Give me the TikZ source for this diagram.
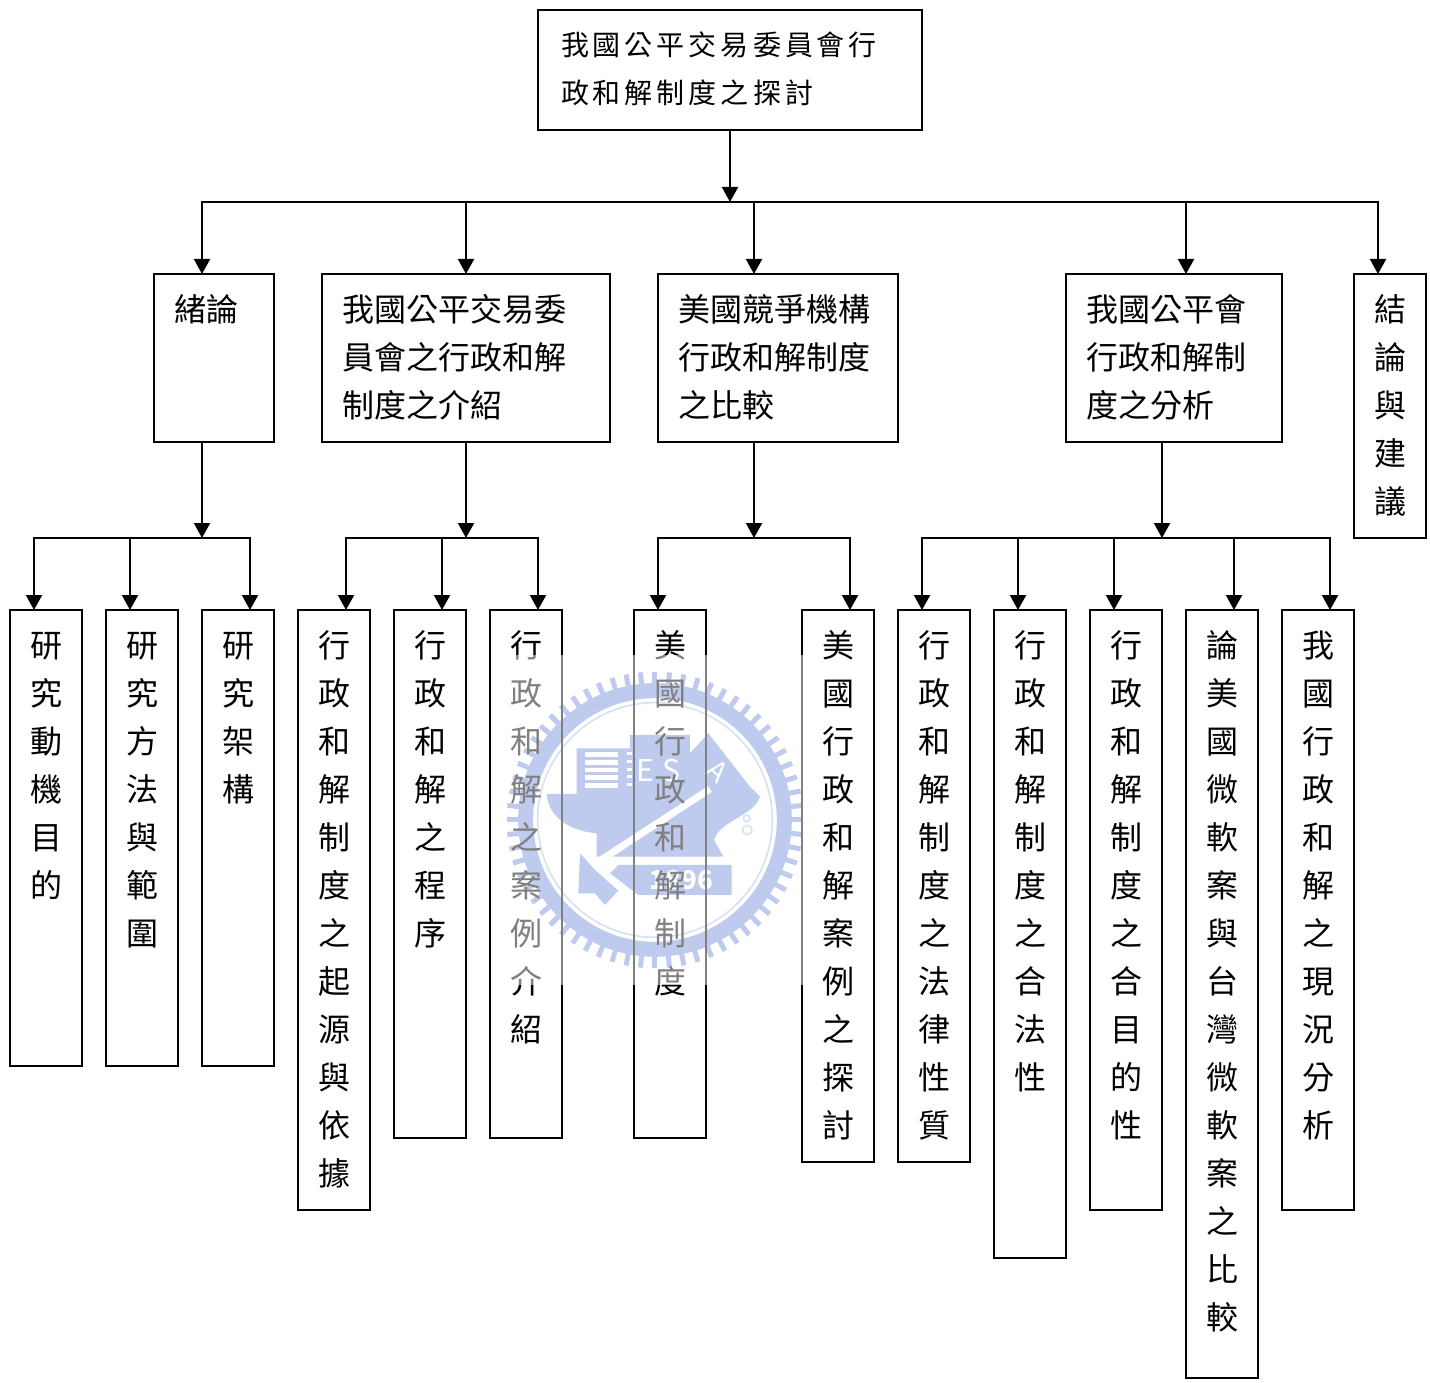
\documentclass[tikz,border=0pt]{standalone}
\usepackage{fontspec}
\setmainfont{Noto Sans CJK TC}
\usetikzlibrary{arrows.meta,calc}
\definecolor{wmblue}{RGB}{125,149,221}
\definecolor{wmpale}{RGB}{177,193,237}
\XeTeXlinebreaklocale "zh"
\XeTeXlinebreakskip=0pt plus 1pt
\tikzset{
  chartbox/.style={draw=black,line width=2pt,inner sep=0pt,outer sep=0pt,font=\fontsize{32}{48}\selectfont},
  link/.style={draw=black,line width=2pt},
  arrowlink/.style={link,-{Triangle[length=15pt,width=16pt]}}
}
% name, x0, y0, x1, y1, text: vertical text, one character per line
\newcommand\tallbox[6]{%
  \node[chartbox,minimum width={(#4-#2)*1pt},minimum height={(#5-#3)*1pt}] (#1) at ({(#2+#4)/2},{(#3+#5)/2})
  {\parbox[c][\dimexpr #5pt-#3pt\relax][t]{34pt}{\centering\rule{0pt}{47pt}#6}};}
% name, x0, y0, x1, y1, text: horizontal lines, left aligned
\newcommand\widebox[6]{%
  \node[chartbox,minimum width={(#4-#2)*1pt},minimum height={(#5-#3)*1pt}] (#1) at ({(#2+#4)/2},{(#3+#5)/2})
  {\parbox[c][\dimexpr #5pt-#3pt\relax][t]{\dimexpr #4pt-#2pt\relax}{\leftskip=20pt\rightskip=0pt plus 1fil\parindent=0pt\rule{0pt}{47pt}#6}};}
\begin{document}
\begin{tikzpicture}[x=1pt,y=-1pt]
\useasboundingbox (0,0) rectangle (1430,1383);
\fill[white] (0,0) rectangle (1430,1383);

% watermark seal, under the chart; the veil at the end pales both
\begin{scope}[shift={(490,640)},x=0.3333pt,y=-0.3333pt]
  \coordinate (wm) at (495,540);
  \draw[wmblue,line width=15pt] (wm) circle[radius=388];
  \foreach \t in {0,5.625,...,355}
    \draw[wmblue,line width=5pt] ($(wm)+(\t:400)$) -- ($(wm)+(\t:445)$);
  \draw[wmpale,line width=1.6pt] (wm) circle[radius=352];
  % anvil body and building
  \fill[wmblue] (170,462) -- (260,462) -- (260,325) -- (420,325) -- (420,285) -- (600,285) -- (600,340)
     -- (655,280) -- (780,440) -- (810,470) .. controls (790,530) and (690,540) .. (672,600)
     -- (700,650) -- (320,650) -- (320,580) .. controls (220,570) and (175,520) .. (170,462) -- cycle;
  % stripes on the building
  \foreach \s in {337,360,383,406,429}
    \fill[white] (285,\s) rectangle (385,\s+14);
  \foreach \s in {337,360,383,406,429}
    \fill[white] (410,\s) rectangle (425,\s+9);
  \node[white,font=\fontsize{30}{30}\selectfont] (wmE) at (465,392) {E};
  \node[white,font=\fontsize{30}{30}\selectfont] (wmS) at (545,392) {S};
  \node[white,font=\fontsize{28}{28}\selectfont,rotate=-40] (wmA) at (682,392) {A};
  % handle
  \draw[white,line width=7pt] (660,447) -- (325,665);
  % hammer head
  \fill[wmblue] (270,640) -- (315,690) -- (385,752) -- (345,795) -- (315,760) -- (265,760) -- cycle;
  % date band
  \fill[wmblue] (385,675) -- (725,675) -- (725,765) -- (445,765) -- (360,700) -- cycle;
  \node[white,font=\fontsize{26}{26}\selectfont\bfseries] (wmY) at (575,720) {1896};
  % small curl
  \draw[wmpale,line width=1.5pt] (770,535) circle[radius=10] (772,570) circle[radius=14];
\end{scope}

% root
\node[chartbox,minimum width=384pt,minimum height=120pt] (root) at (730,70)
  {\parbox[c][120pt][t]{384pt}{\leftskip=23pt\parindent=0pt\fontsize{28}{48}\selectfont\XeTeXlinebreakskip=4pt\rule{0pt}{46pt}我國公平交易委員會行\\政和解制度之探討}};

% second level
\widebox{a}{154}{274}{274}{442}{緒論}
\widebox{b}{322}{274}{610}{442}{我國公平交易委\\員會之行政和解\\制度之介紹}
\widebox{c}{658}{274}{898}{442}{美國競爭機構\\行政和解制度\\之比較}
\widebox{d}{1066}{274}{1282}{442}{我國公平會\\行政和解制\\度之分析}
\tallbox{e}{1354}{274}{1426}{538}{結論與建議}

% third level
\tallbox{a1}{10}{610}{82}{1066}{研究動機目的}
\tallbox{a2}{106}{610}{178}{1066}{研究方法與範圍}
\tallbox{a3}{202}{610}{274}{1066}{研究架構}
\tallbox{b1}{298}{610}{370}{1210}{行政和解制度之起源與依據}
\tallbox{b2}{394}{610}{466}{1138}{行政和解之程序}
\tallbox{b3}{490}{610}{562}{1138}{行政和解之案例介紹}
\tallbox{c1}{634}{610}{706}{1138}{美國行政和解制度}
\tallbox{c2}{802}{610}{874}{1162}{美國行政和解案例之探討}
\tallbox{d1}{898}{610}{970}{1162}{行政和解制度之法律性質}
\tallbox{d2}{994}{610}{1066}{1258}{行政和解制度之合法性}
\tallbox{d3}{1090}{610}{1162}{1210}{行政和解制度之合目的性}
\tallbox{d4}{1186}{610}{1258}{1378}{論美國微軟案與台灣微軟案之比較}
\tallbox{d5}{1282}{610}{1354}{1210}{我國行政和解之現況分析}

% bus junctions
\coordinate (rootbus) at (730,202);
\coordinate (busL) at (202,202);
\coordinate (busR) at (1378,202);
\foreach \n/\x in {a/202,b/466,c/754,d/1186,e/1378}
  \coordinate (top\n) at (\x,202);
\draw[link,line cap=rect] (busL) -- (busR);
\draw[arrowlink] (root.south -| rootbus) -- (rootbus);
\foreach \n in {a,b,c,d,e}
  \draw[arrowlink] (top\n) -- (top\n |- \n.north);

% sub-buses
\coordinate (subA) at (202,538);
\coordinate (subB) at (466,538);
\coordinate (subC) at (754,538);
\coordinate (subD) at (1162,538);
\draw[arrowlink] (a.south -| subA) -- (subA);
\draw[arrowlink] (b.south -| subB) -- (subB);
\draw[arrowlink] (c.south -| subC) -- (subC);
\draw[arrowlink] (d.south -| subD) -- (subD);
\foreach \n/\x in {a1/34,a2/130,a3/250,b1/346,b2/442,b3/538,c1/658,c2/850,d1/922,d2/1018,d3/1114,d4/1234,d5/1330}
  \coordinate (drop\n) at (\x,538);
\draw[link,line cap=rect] (dropa1) -- (dropa3);
\draw[link,line cap=rect] (dropb1) -- (dropb3);
\draw[link,line cap=rect] (dropc1) -- (dropc2);
\draw[link,line cap=rect] (dropd1) -- (dropd5);
\foreach \n in {a1,a2,a3,b1,b2,b3,c1,c2,d1,d2,d3,d4,d5}
  \draw[arrowlink] (drop\n) -- (drop\n |- \n.north);

% veil of the watermark image over the chart
\fill[white,opacity=0.5] (505,655) rectangle (805,985);
\end{tikzpicture}
\end{document}
